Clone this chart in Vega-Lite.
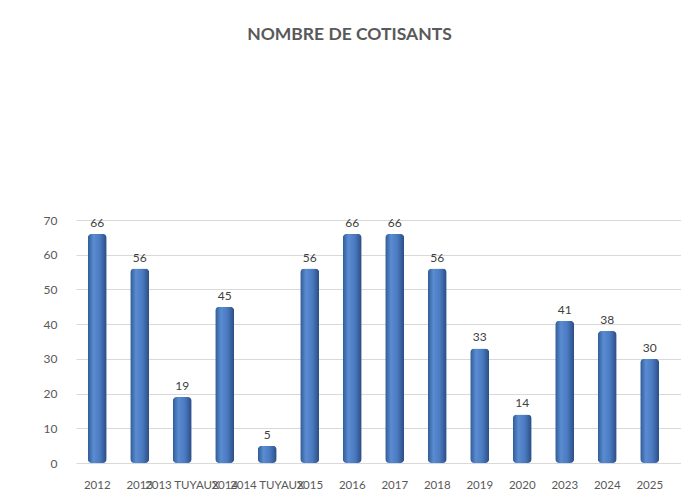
{
  "$schema": "https://vega.github.io/schema/vega-lite/v6.json",
  "autosize": "none",
  "width": 605,
  "height": 243,
  "padding": {"left": 76, "top": 220, "right": 0, "bottom": 32},
  "background": "white",
  "title": {
    "text": "NOMBRE DE COTISANTS",
    "font": "Lato",
    "fontSize": 17.5,
    "fontWeight": "bold",
    "color": "#595959",
    "anchor": "middle",
    "frame": "group",
    "dx": -29,
    "offset": 171
  },
  "data": {
    "values": [
      {"annee": "2012", "cotisants": 66},
      {"annee": "2013", "cotisants": 56},
      {"annee": "2013 TUYAUX", "cotisants": 19},
      {"annee": "2014", "cotisants": 45},
      {"annee": "2014 TUYAUX", "cotisants": 5},
      {"annee": "2015", "cotisants": 56},
      {"annee": "2016", "cotisants": 66},
      {"annee": "2017", "cotisants": 66},
      {"annee": "2018", "cotisants": 56},
      {"annee": "2019", "cotisants": 33},
      {"annee": "2020", "cotisants": 14},
      {"annee": "2023", "cotisants": 41},
      {"annee": "2024", "cotisants": 38},
      {"annee": "2025", "cotisants": 30}
    ]
  },
  "encoding": {
    "x": {
      "field": "annee",
      "type": "nominal",
      "sort": null,
      "scale": {"paddingInner": 0, "paddingOuter": 0.118, "align": 0},
      "axis": {
        "title": null,
        "ticks": false,
        "domain": false,
        "labelAngle": 0,
        "labelOverlap": false,
        "labelLimit": 0,
        "labelPadding": 16,
        "labelFont": "Lato",
        "labelFontSize": 11.5,
        "labelColor": "#595959"
      }
    },
    "y": {
      "field": "cotisants",
      "type": "quantitative",
      "scale": {"domain": [0, 70], "nice": false},
      "axis": {
        "title": null,
        "ticks": false,
        "domain": false,
        "values": [0, 10, 20, 30, 40, 50, 60, 70],
        "labelOverlap": false,
        "labelFlush": false,
        "labelPadding": 19,
        "labelFont": "Lato",
        "labelFontSize": 12,
        "labelColor": "#595959",
        "gridColor": "#d9d9d9",
        "gridWidth": 1
      }
    }
  },
  "layer": [
    {
      "mark": {
        "type": "bar",
        "size": 19,
        "cornerRadiusTopLeft": 4,
        "cornerRadiusTopRight": 4,
        "cornerRadiusBottomLeft": 4,
        "cornerRadiusBottomRight": 4,
        "color": {
          "gradient": "linear",
          "x1": 0, "x2": 1, "y1": 0, "y2": 0,
          "stops": [
            {"offset": 0, "color": "#2f5a94"},
            {"offset": 0.3, "color": "#5a8cd2"},
            {"offset": 0.65, "color": "#4a79c0"},
            {"offset": 1, "color": "#2a4c82"}
          ]
        }
      }
    },
    {
      "mark": {
        "type": "text",
        "baseline": "bottom",
        "dy": -4,
        "font": "Lato",
        "fontSize": 12,
        "color": "#404040"
      },
      "encoding": {"text": {"field": "cotisants", "type": "quantitative"}}
    }
  ],
  "config": {"view": {"stroke": null}}
}
